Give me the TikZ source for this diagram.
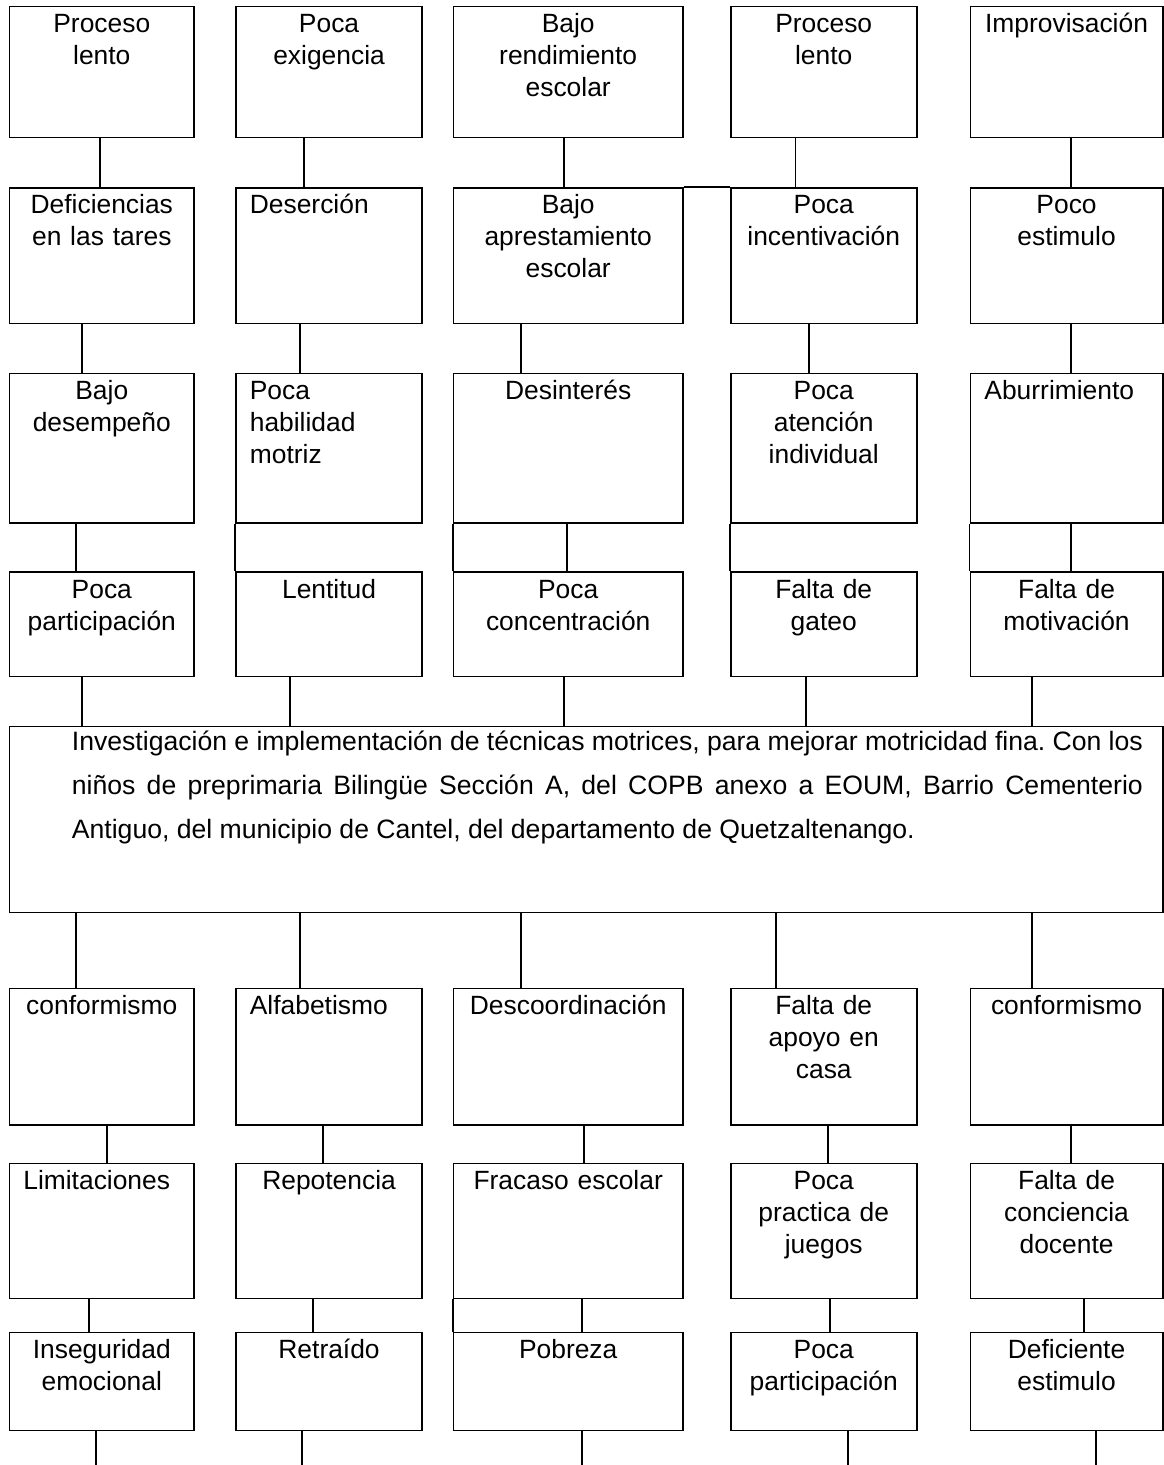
\documentclass[tikz,border=0pt]{standalone}
\usepackage{fontspec}
\setmainfont{Liberation Sans}
\usepackage{tikz}
\usetikzlibrary{positioning}
\hyphenpenalty=10000
\exhyphenpenalty=10000
\frenchspacing

\tikzset{
  caja/.style={draw, line width=1.7pt, anchor=north west, inner xsep=14pt,
    inner ysep=0pt, align=center, text height=26pt,
    font=\fontsize{26.4}{32}\selectfont},
  izq/.style={align=left},
  col1/.style={text width=156.9pt},
  col2/.style={text width=158.4pt},
  col3/.style={text width=201.3pt},
  col4/.style={text width=158.2pt},
  col5/.style={text width=164.2pt},
  fila1/.style={text depth=105pt},
  fila2/.style={text depth=109.7pt},
  fila3/.style={text depth=123.3pt},
  fila4/.style={text depth=78.4pt},
  fila5/.style={text depth=110.1pt},
  fila6/.style={text depth=108.9pt},
  fila7/.style={text depth=71.8pt},
  linea/.style={line width=1.7pt},
}

\begin{document}
\begin{tikzpicture}[x=1pt,y=-1pt]
    \useasboundingbox (0,0) rectangle (1163,1465);
    % efectos
    \node[caja,col1,fila1] (ea1) at (8.5,5.7) {Proceso\\lento};
    \node[caja,col2,fila1] (ea2) at (235,5.7) {Poca\\exigencia};
    \node[caja,col3,fila1] (ea3) at (452.7,5.7) {Bajo\\rendimiento\\escolar};
    \node[caja,col4,fila1] (ea4) at (729.8,5.7) {Proceso\\lento};
    \node[caja,col5,fila1] (ea5) at (969.6,5.7) {Improvisación};
    %
    \node[caja,col1,fila2] (eb1) at (8.5,187) {Deficiencias\\en las tares};
    \node[caja,col2,fila2,izq] (eb2) at (235,187) {Deserción};
    \node[caja,col3,fila2] (eb3) at (452.7,187) {Bajo\\aprestamiento\\escolar};
    \node[caja,col4,fila2] (eb4) at (729.8,187) {Poca\\incentivación};
    \node[caja,col5,fila2] (eb5) at (969.6,187) {Poco\\estimulo};
    %
    \node[caja,col1,fila3] (ec1) at (8.5,372.7) {Bajo\\desempeño};
    \node[caja,col2,fila3,izq] (ec2) at (235,372.7) {Poca\\habilidad\\motriz};
    \node[caja,col3,fila3] (ec3) at (452.7,372.7) {Desinterés};
    \node[caja,col4,fila3] (ec4) at (729.8,372.7) {Poca\\atención\\individual};
    \node[caja,col5,fila3,izq] (ec5) at (969.6,372.7) {Aburrimiento};
    %
    \node[caja,col1,fila4] (ed1) at (8.5,571.3) {Poca\\participación};
    \node[caja,col2,fila4] (ed2) at (235,571.3) {Lentitud};
    \node[caja,col3,fila4] (ed3) at (452.7,571.3) {Poca\\concentración};
    \node[caja,col4,fila4] (ed4) at (729.8,571.3) {Falta de\\gateo};
    \node[caja,col5,fila4] (ed5) at (969.6,571.3) {Falta de\\motivación};
    % problema central
    \node[draw, line width=1.7pt, anchor=north west, inner sep=0pt,
      minimum width=1153.3pt, minimum height=186pt] (prob) at (8.5,725.7) {};
    \node[anchor=base west, inner sep=0pt, text width=1071pt, align=justify,
      font=\fontsize{26.6}{44}\selectfont] (probtxt)
      at ([shift={(63.2pt,-24.5pt)}]prob.north west)
      {Investigación e implementación de técnicas motrices, para mejorar motricidad fina. Con los\linebreak
       niños de preprimaria Bilingüe Sección A, del COPB anexo a EOUM, Barrio Cementerio\linebreak
       Antiguo, del municipio de Cantel, del departamento de Quetzaltenango.};
    % causas
    \node[caja,col1,fila5] (ca1) at (8.5,987.7) {conformismo};
    \node[caja,col2,fila5,izq] (ca2) at (235,987.7) {Alfabetismo};
    \node[caja,col3,fila5] (ca3) at (452.7,987.7) {Descoordinación};
    \node[caja,col4,fila5] (ca4) at (729.8,987.7) {Falta de\\apoyo en\\casa};
    \node[caja,col5,fila5] (ca5) at (969.6,987.7) {conformismo};
    %
    \node[caja,col1,fila6,izq] (cb1) at (8.5,1162.6) {Limitaciones};
    \node[caja,col2,fila6] (cb2) at (235,1162.6) {Repotencia};
    \node[caja,col3,fila6] (cb3) at (452.7,1162.6) {Fracaso escolar};
    \node[caja,col4,fila6] (cb4) at (729.8,1162.6) {Poca\\practica de\\juegos};
    \node[caja,col5,fila6] (cb5) at (969.6,1162.6) {Falta de\\conciencia\\docente};
    %
    \node[caja,col1,fila7] (cc1) at (8.5,1331.7) {Inseguridad\\emocional};
    \node[caja,col2,fila7] (cc2) at (235,1331.7) {Retraído};
    \node[caja,col3,fila7] (cc3) at (452.7,1331.7) {Pobreza};
    \node[caja,col4,fila7] (cc4) at (729.8,1331.7) {Poca\\participación};
    \node[caja,col5,fila7] (cc5) at (969.6,1331.7) {Deficiente\\estimulo};
    \coordinate (fin) at (0,1465);
    % lineas de arriba
    \draw[linea] (ea1.south -| 100,0) -- (eb1.north -| 100,0);
    \draw[linea] (ea2.south -| 304,0) -- (eb2.north -| 304,0);
    \draw[linea] (ea3.south -| 564,0) -- (eb3.north -| 564,0);
    \draw[linea] (ea4.south -| 795.5,0) -- (eb4.north -| 795.5,0);
    \draw[linea] (ea5.south -| 1070.7,0) -- (eb5.north -| 1070.7,0);
    \draw[linea] (eb3.north east) -- (eb4.north west);
    %
    \draw[linea] (eb1.south -| 82,0) -- (ec1.north -| 82,0);
    \draw[linea] (eb2.south -| 300,0) -- (ec2.north -| 300,0);
    \draw[linea] (eb3.south -| 521,0) -- (ec3.north -| 521,0);
    \draw[linea] (eb4.south -| 808.7,0) -- (ec4.north -| 808.7,0);
    \draw[linea] (eb5.south -| 1070.7,0) -- (ec5.north -| 1070.7,0);
    %
    \draw[linea] (ec1.south -| 75.8,0) -- (ed1.north -| 75.8,0);
    \draw[linea] (ec2.south west) -- (ed2.north west);
    \draw[linea] (ec3.south west) -- (ed3.north west);
    \draw[linea] (ec3.south -| 567,0) -- (ed3.north -| 567,0);
    \draw[linea] (ec4.south west) -- (ed4.north west);
    \draw[linea] (ec5.south west) -- (ed5.north west);
    \draw[linea] (ec5.south -| 1070.7,0) -- (ed5.north -| 1070.7,0);
    %
    \draw[linea] (ed1.south -| 81.8,0) -- (prob.north -| 81.8,0);
    \draw[linea] (ed2.south -| 290,0) -- (prob.north -| 290,0);
    \draw[linea] (ed3.south -| 564,0) -- (prob.north -| 564,0);
    \draw[linea] (ed4.south -| 806,0) -- (prob.north -| 806,0);
    \draw[linea] (ed5.south -| 1032,0) -- (prob.north -| 1032,0);
    % lineas de abajo
    \draw[linea] (prob.south -| 76.1,0) -- (ca1.north -| 76.1,0);
    \draw[linea] (prob.south -| 299.7,0) -- (ca2.north -| 299.7,0);
    \draw[linea] (prob.south -| 521.2,0) -- (ca3.north -| 521.2,0);
    \draw[linea] (prob.south -| 776,0) -- (ca4.north -| 776,0);
    \draw[linea] (prob.south -| 1032,0) -- (ca5.north -| 1032,0);
    %
    \draw[linea] (ca1.south -| 106.8,0) -- (cb1.north -| 106.8,0);
    \draw[linea] (ca2.south -| 323.2,0) -- (cb2.north -| 323.2,0);
    \draw[linea] (ca3.south -| 584,0) -- (cb3.north -| 584,0);
    \draw[linea] (ca4.south -| 828.3,0) -- (cb4.north -| 828.3,0);
    \draw[linea] (ca5.south -| 1070.7,0) -- (cb5.north -| 1070.7,0);
    %
    \draw[linea] (cb1.south -| 89.2,0) -- (cc1.north -| 89.2,0);
    \draw[linea] (cb2.south -| 313.2,0) -- (cc2.north -| 313.2,0);
    \draw[linea] (cb3.south west) -- (cc3.north west);
    \draw[linea] (cb3.south -| 582,0) -- (cc3.north -| 582,0);
    \draw[linea] (cb4.south -| 829.8,0) -- (cc4.north -| 829.8,0);
    \draw[linea] (cb5.south -| 1083.7,0) -- (cc5.north -| 1083.7,0);
    %
    \draw[linea] (cc1.south -| 95.7,0) -- (fin -| 95.7,0);
    \draw[linea] (cc2.south -| 302,0) -- (fin -| 302,0);
    \draw[linea] (cc3.south -| 582,0) -- (fin -| 582,0);
    \draw[linea] (cc4.south -| 847.7,0) -- (fin -| 847.7,0);
    \draw[linea] (cc5.south -| 1095.8,0) -- (fin -| 1095.8,0);
\end{tikzpicture}
\end{document}
